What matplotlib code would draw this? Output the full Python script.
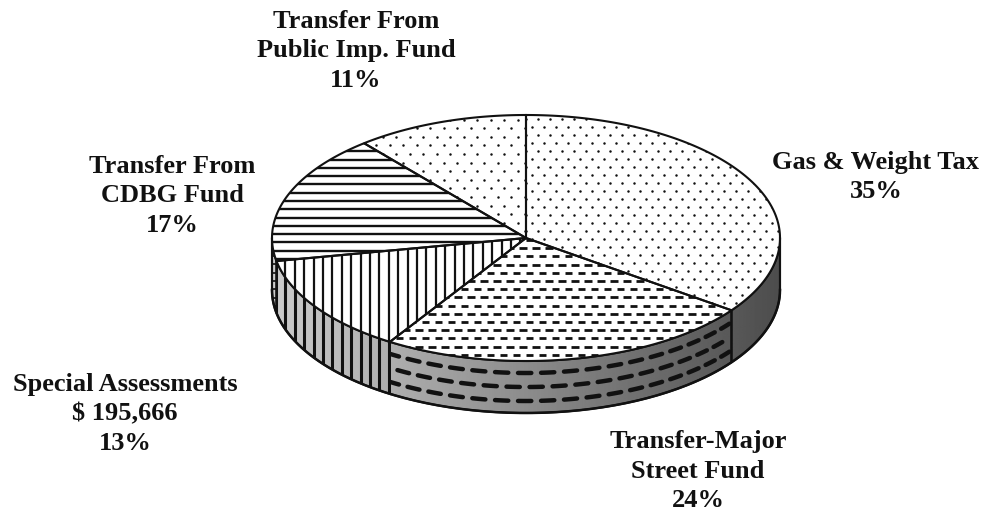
import numpy as np
import matplotlib
matplotlib.use("Agg")
import matplotlib.pyplot as plt
from matplotlib.patches import Polygon
from matplotlib.collections import LineCollection

# Revenue sources, clockwise from 12 o'clock
categories = ["Gas & Weight Tax", "Transfer-Major\nStreet Fund", "Special Assessments",
              "Transfer From\nCDBG Fund", "Transfer From\nPublic Imp. Fund"]
shares = [35, 24, 13, 17, 11]
amount_notes = ["", "", "$ 195,666", "", ""]
top_styles = ["dots", "dashes", "vlines", "hlines", "dots_sparse"]

# label anchor points (pixel space)
label_xy = [(876, 177), (698, 471), (125, 414), (172, 196), (356, 51)]

W, H = 989, 515
fig = plt.figure(figsize=(W / 100, H / 100), dpi=100)
ax = fig.add_axes([0, 0, 1, 1])
ax.set_xlim(0, W)
ax.set_ylim(H, 0)
ax.axis("off")

cx, cy, a, b, depth = 526, 238, 254, 123, 52


def pt(theta_deg, dy=0.0):
    t = np.radians(theta_deg)
    return cx + a * np.sin(t), cy - b * np.cos(t) + dy


def arc(t0, t1, dy=0.0, n=200):
    ts = np.linspace(t0, t1, n)
    xs, ys = pt(ts, dy)
    return np.column_stack([xs, ys])


bounds = np.concatenate([[0], np.cumsum(shares)]) * 3.6
ink = "#111111"
lw_out = 1.5


def side_gray(x):
    t = (np.asarray(x) - (cx - a)) / (2 * a)
    return 0.80 - 0.50 * t


grad_x = np.linspace(cx - a, cx + a, 400)
grad = side_gray(grad_x)[None, :]

# ---- side walls (front half of the disc only) ----
for i, (t0, t1) in enumerate(zip(bounds[:-1], bounds[1:])):
    s, e = max(t0, 90), min(t1, 270)
    if s >= e:
        continue
    top = arc(s, e)
    bot = arc(e, s, dy=depth)
    side = Polygon(np.vstack([top, bot]), closed=True, facecolor="none",
                   edgecolor=ink, lw=lw_out, zorder=3)
    ax.add_patch(side)
    im = ax.imshow(grad, cmap="gray", vmin=0, vmax=1, aspect="auto",
                   extent=[cx - a, cx + a, cy + b + depth + 5, cy - 5], zorder=1)
    im.set_clip_path(side)
    style = top_styles[i]
    if style == "vlines":
        xs = np.arange(cx - a + 4, cx + a, 9.4)
        segs = [[(x, cy - 10), (x, cy + b + depth + 5)] for x in xs]
        lc = LineCollection(segs, colors=ink, linewidths=2.2, zorder=2)
        ax.add_collection(lc)
        lc.set_clip_path(side)
    elif style == "dashes":
        segs = []
        for k, d in enumerate([12, 26, 40]):
            step = 5.2
            start = s + 0.8 + (2.6 if k % 2 else 0)
            th = start
            while th < e:
                segs.append(arc(th, min(th + 3.0, e), dy=d, n=8))
                th += step
        lc = LineCollection(segs, colors=ink, linewidths=3.2, zorder=2,
                            capstyle="round")
        ax.add_collection(lc)
        lc.set_clip_path(side)
    elif style == "hlines":
        ys = np.arange(cy - b, cy + b + depth, 8.3)
        segs = [[(cx - a - 5, y), (cx + a, y)] for y in ys]
        lc = LineCollection(segs, colors=ink, linewidths=1.2, zorder=2)
        ax.add_collection(lc)
        lc.set_clip_path(side)

# ---- top face wedges ----
for i, (t0, t1) in enumerate(zip(bounds[:-1], bounds[1:])):
    poly = np.vstack([[cx, cy], arc(t0, t1)])
    wedge = Polygon(poly, closed=True, facecolor="white", edgecolor="none",
                    zorder=4)
    ax.add_patch(wedge)
    outline = Polygon(poly, closed=True, facecolor="none", edgecolor=ink,
                      lw=lw_out, zorder=6)
    ax.add_patch(outline)
    style = top_styles[i]
    if style in ("dots", "dots_sparse"):
        gx = 12.0 if style == "dots" else 13.5
        gy = 8.0 if style == "dots" else 8.6
        pts = []
        for r, y in enumerate(np.arange(cy - b - 4, cy + b + 4, gy)):
            off = gx / 2 if r % 2 else 0
            for x in np.arange(cx - a - 4 + off, cx + a + 4, gx):
                pts.append((x, y))
        pts = np.array(pts)
        sc = ax.scatter(pts[:, 0], pts[:, 1], s=3.2, c=ink, lw=0, zorder=4.5)
        sc.set_clip_path(wedge)
        continue
    if style == "hlines":
        ys = np.arange(cy - b + 3, cy + b, 8.3)
        segs = [[(cx - a - 5, y), (cx + a + 5, y)] for y in ys]
        lc = LineCollection(segs, colors=ink, linewidths=1.7, zorder=4.5)
    elif style == "vlines":
        xs = np.arange(cx - a + 4, cx + a, 9.4)
        segs = [[(x, cy - b - 5), (x, cy + b + 5)] for x in xs]
        lc = LineCollection(segs, colors=ink, linewidths=1.6, zorder=4.5)
    else:  # dashes
        segs = []
        for r, y in enumerate(np.arange(cy - b + 2, cy + b + 4, 8.2)):
            off = 6.5 if r % 2 else 0
            for x in np.arange(cx - a + off, cx + a, 13.0):
                segs.append([(x, y), (x + 7.5, y)])
        lc = LineCollection(segs, colors=ink, linewidths=2.0, zorder=4.5)
    ax.add_collection(lc)
    lc.set_clip_path(wedge)

# outer edges of the disc
ax.plot(*arc(90, 270, dy=depth).T, color=ink, lw=lw_out + 0.3, zorder=6)
for th in (90, 270):
    x0, y0 = pt(th)
    ax.plot([x0, x0], [y0, y0 + depth], color=ink, lw=lw_out, zorder=6)

ax.set_xlim(0, W)
ax.set_ylim(H, 0)

# ---- labels ----
for name, pct, note, (lx, ly) in zip(categories, shares, amount_notes, label_xy):
    lines = [name] + ([note] if note else []) + [f"{pct}%"]
    ax.text(lx, ly, "\n".join(lines), ha="center", va="center",
            fontsize=19, fontweight="bold", family="Liberation Serif",
            linespacing=1.36, color=ink, zorder=10)

fig.savefig("out.png", dpi=100, facecolor="white")
